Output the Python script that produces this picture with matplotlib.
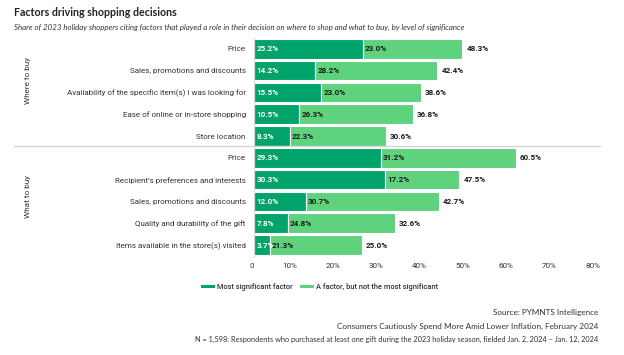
import matplotlib.pyplot as plt
from matplotlib.lines import Line2D
import numpy as np

# Data
categories = [
    "Price",
    "Sales, promotions and discounts",
    "Availability of the specific item(s) I was looking for",
    "Ease of online or in-store shopping",
    "Store location",
    "Price",
    "Recipient\u2019s preferences and interests",
    "Sales, promotions and discounts",
    "Quality and durability of the gift",
    "Items available in the store(s) visited",
]
most_significant = [25.2, 14.2, 15.5, 10.5, 8.3, 29.3, 30.3, 12.0, 7.8, 3.7]
not_most = [23.0, 28.2, 23.0, 26.3, 22.3, 31.2, 17.2, 30.7, 24.8, 21.3]
totals = [48.3, 42.4, 38.6, 36.8, 30.6, 60.5, 47.5, 42.7, 32.6, 25.0]
x_ticks = [0, 10, 20, 30, 40, 50, 60, 70, 80]
x_tick_labels = ["0", "10%", "20%", "30%", "40%", "50%", "60%", "70%", "80%"]

DARK = "#00a36a"
LIGHT = "#5fd27e"
TEXT = "#333333"

W, H = 624, 355
fig = plt.figure(figsize=(W / 100, H / 100), dpi=100)
ax = fig.add_axes([254 / W, 1 - 257 / H, 346 / W, 219 / H])

y = np.arange(len(categories))
ax.barh(y, most_significant, height=0.9, color=DARK, edgecolor="white", linewidth=0.8)
ax.barh(y, not_most, left=most_significant, height=0.9, color=LIGHT,
        edgecolor="white", linewidth=0.8)

for i in range(len(categories)):
    ax.text(0.6, i, f"{most_significant[i]:.1f}%", ha="left", va="center",
            fontsize=5.8, color="white", fontweight="bold", family="Roboto")
    ax.text(most_significant[i] + 0.5, i, f"{not_most[i]:.1f}%", ha="left",
            va="center", fontsize=5.8, color="#1a1a1a", fontweight="bold",
            family="Roboto")
    ax.text(totals[i] + 0.9, i, f"{totals[i]:.1f}%", ha="left", va="center",
            fontsize=5.8, color="#1a1a1a", fontweight="bold", family="Roboto")

ax.set_xlim(0, 80)
ax.set_ylim(9.55, -0.5)
ax.set_yticks(y)
ax.set_yticklabels(categories, fontsize=5.8, color=TEXT, family="Roboto")
ax.set_xticks(x_ticks)
ax.set_xticklabels(x_tick_labels, fontsize=5.8, color=TEXT, family="Roboto", ha="right")
ax.tick_params(axis="both", length=0)
ax.tick_params(axis="y", pad=6)
ax.tick_params(axis="x", pad=4)
for side in ["top", "right", "bottom"]:
    ax.spines[side].set_visible(False)
ax.spines["left"].set_color("#d9d9d9")
ax.spines["left"].set_linewidth(0.8)

# separator between groups
fig.add_artist(Line2D([14 / W, 600 / W], [1 - 146 / H, 1 - 146 / H],
                      color="#d4d4d4", linewidth=1.0))

# group labels
fig.text(28 / W, 1 - 80 / H, "Where to buy", rotation=90, ha="center", va="center",
         fontsize=5.9, color=TEXT, family="Roboto")
fig.text(28 / W, 1 - 197 / H, "What to buy", rotation=90, ha="center", va="center",
         fontsize=5.9, color=TEXT, family="Roboto")

# title and subtitle
fig.text(14 / W, 1 - 12 / H, "Factors driving shopping decisions", ha="left",
         va="center", fontsize=7.7, color="#222222", family="Lato", fontweight="bold")
fig.text(14 / W, 1 - 27 / H,
         "Share of 2023 holiday shoppers citing factors that played a role in their decision "
         "on where to shop and what to buy, by level of significance",
         ha="left", va="center", fontsize=5.65, color="#333333", family="Lato", style="italic")

# legend
handles = [Line2D([0], [0], color=DARK, linewidth=2.2),
           Line2D([0], [0], color=LIGHT, linewidth=2.2)]
fig.legend(handles, ["Most significant factor", "A factor, but not the most significant"],
           loc="center", bbox_to_anchor=(320 / W, 1 - 287 / H), ncol=2, frameon=False,
           prop={"family": "Roboto", "size": 5.4, "weight": "medium"},
           handlelength=1.5, handletextpad=0.6, columnspacing=1.0, labelcolor="#333333")

# source notes
notes = [
    "Source: PYMNTS Intelligence",
    "Consumers Cautiously Spend More Amid Lower Inflation, February 2024",
    "N = 1,598: Respondents who purchased at least one gift during the 2023 holiday season, "
    "fielded Jan. 2, 2024 \u2013 Jan. 12, 2024",
]
note_sizes = [5.85, 5.85, 5.3]
for k, note in enumerate(notes):
    fig.text(598 / W, 1 - (313 + 13 * k) / H, note, ha="right", va="center",
             fontsize=note_sizes[k], color="#333333", family="Lato")

fig.savefig("out.png", dpi=100)
